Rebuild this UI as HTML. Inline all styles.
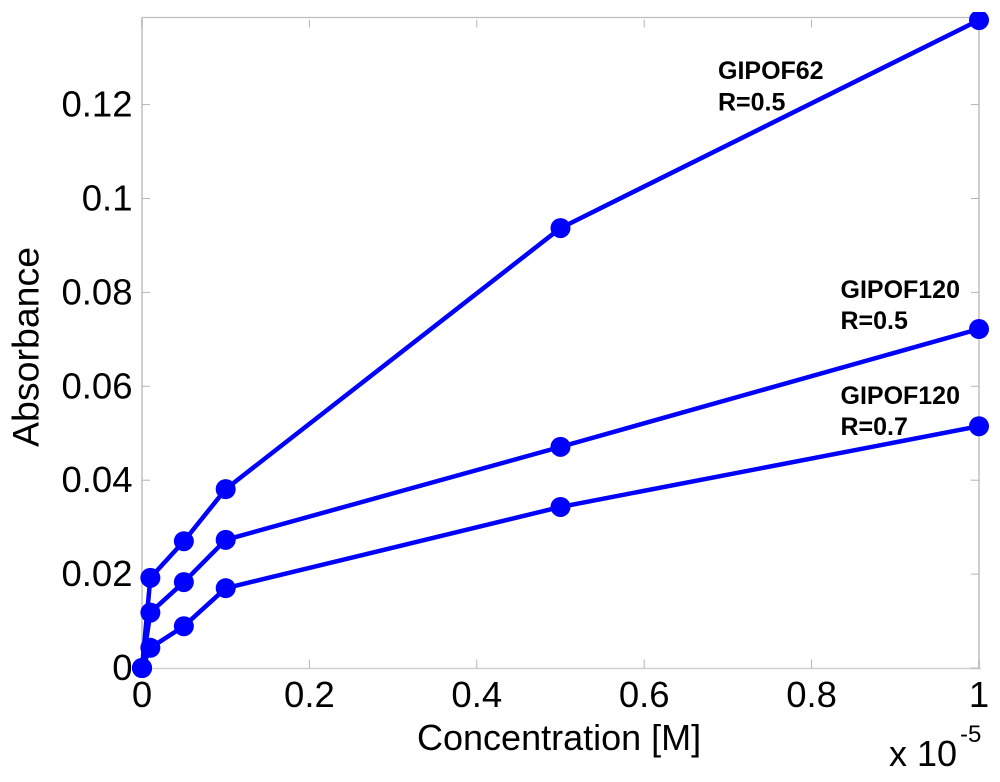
<!DOCTYPE html>
<html lang="en">
<head>
<meta charset="utf-8">
<title>Absorbance vs Concentration</title>
<style>
  html, body { margin: 0; padding: 0; background: #fff; }
  body { width: 1000px; height: 782px; overflow: hidden; }
  svg { display: block; }
  text { font-family: "Liberation Sans", Arial, sans-serif; fill: #000; }
</style>
</head>
<body>
<svg id="chart" xmlns="http://www.w3.org/2000/svg" width="1000" height="782" viewBox="0 0 1000 782">
  <defs>
    <clipPath id="marker-clip"><rect x="0" y="12" width="1000" height="770"></rect></clipPath>
  </defs>
  <g id="axes"></g>
  <g id="series" clip-path="url(#marker-clip)"></g>
  <g id="labels"></g>
  <text x="417" y="750" font-size="36">Concentration [M]</text>
  <text transform="translate(38.5 447) rotate(-90)" font-size="37.5">Absorbance</text>
  <text x="889" y="766" font-size="36">x 10</text>
  <text x="960" y="742" font-size="24">-5</text>
  <g font-size="25" font-weight="bold">
    <text x="718" y="79">GIPOF62</text>
    <text x="718" y="110.5">R=0.5</text>
    <text x="840.5" y="298">GIPOF120</text>
    <text x="840.5" y="329">R=0.5</text>
    <text x="840.5" y="404">GIPOF120</text>
    <text x="840.5" y="435">R=0.7</text>
  </g>
</svg>
<script>
const concentrations = [0, 0.01, 0.05, 0.1, 0.5, 1];
const seriesGipof62 = [0, 0.0192, 0.0270, 0.0381, 0.0937, 0.1380];
const seriesGipof120R05 = [0, 0.0118, 0.0183, 0.0273, 0.0471, 0.0722];
const seriesGipof120R07 = [0, 0.0043, 0.0089, 0.0170, 0.0343, 0.0515];
const xTicks = [0, 0.2, 0.4, 0.6, 0.8, 1];
const xTickLabels = ['0', '0.2', '0.4', '0.6', '0.8', '1'];
const yTicks = [0, 0.02, 0.04, 0.06, 0.08, 0.1, 0.12];
const yTickLabels = ['0', '0.02', '0.04', '0.06', '0.08', '0.1', '0.12'];

const NS = 'http://www.w3.org/2000/svg';
const plotLeft = 142, plotRight = 979, plotBottom = 668.5, plotTop = 17.5;
const yZero = 668, yPerUnit = 4695;
function xScale(v) { return plotLeft + v * (plotRight - plotLeft); }
function yScale(v) { return yZero - v * yPerUnit; }
function make(tag, attrs, parent) {
  const el = document.createElementNS(NS, tag);
  for (const k in attrs) el.setAttribute(k, attrs[k]);
  parent.appendChild(el);
  return el;
}

const axes = document.getElementById('axes');
const frameTop = make('line', { x1: plotLeft - 1, x2: plotRight + 1, y1: plotTop, y2: plotTop, stroke: '#bdbdbd', 'stroke-width': 1.2 }, axes);


const frameRight = make('line', { x1: plotRight, x2: plotRight, y1: plotTop, y2: plotBottom, stroke: '#cfcfcf', 'stroke-width': 2 }, axes);


const frameLeft = make('line', { x1: plotLeft, x2: plotLeft, y1: plotTop, y2: plotBottom + 1, stroke: '#cfcfcf', 'stroke-width': 2 }, axes);


const frameBottom = make('line', { x1: plotLeft, x2: plotRight + 2, y1: plotBottom, y2: plotBottom, stroke: '#cfcfcf', 'stroke-width': 1.6 }, axes);



const labels = document.getElementById('labels');
xTicks.forEach(function (t, i) {
  const x = xScale(t);
  const tickB = make('line', { x1: x, x2: x, y1: plotBottom, y2: plotBottom - 9, stroke: '#b5b5b5', 'stroke-width': 1 }, axes);
  
  
  const tickT = make('line', { x1: x, x2: x, y1: plotTop + 2, y2: plotTop + 10, stroke: '#b5b5b5', 'stroke-width': 1 }, axes);
  
  
  const label = make('text', { x: x, y: 707, 'font-size': 36.5, 'text-anchor': 'middle' }, labels);
  label.textContent = xTickLabels[i];
  
  
});
yTicks.forEach(function (t, i) {
  const y = yScale(t);
  const tickL = make('line', { x1: plotLeft, x2: plotLeft + 8, y1: y, y2: y, stroke: '#b5b5b5', 'stroke-width': 1 }, axes);
  
  
  const tickR = make('line', { x1: plotRight - 8, x2: plotRight, y1: y, y2: y, stroke: '#b5b5b5', 'stroke-width': 1 }, axes);
  
  
  const label = make('text', { x: 132.5, y: y + 12, 'font-size': 36.5, 'text-anchor': 'end' }, labels);
  label.textContent = yTickLabels[i];
  
  
});

const seriesGroup = document.getElementById('series');
function drawSeries(values, name) {
  const points = values.map(function (v, i) { return xScale(concentrations[i]) + ',' + yScale(v); }).join(' ');
  const line = make('polyline', { points: points, fill: 'none', stroke: '#0000ff', 'stroke-width': 4.5, 'stroke-linejoin': 'round' }, seriesGroup);
  
  
  values.forEach(function (v, i) {
    const dot = make('circle', { cx: xScale(concentrations[i]), cy: yScale(v), r: 10, fill: '#0000ff' }, seriesGroup);
    
    
  });
}
drawSeries(seriesGipof62, 'gipof62');
drawSeries(seriesGipof120R05, 'gipof120-r05');
drawSeries(seriesGipof120R07, 'gipof120-r07');
</script>
</body>
</html>
